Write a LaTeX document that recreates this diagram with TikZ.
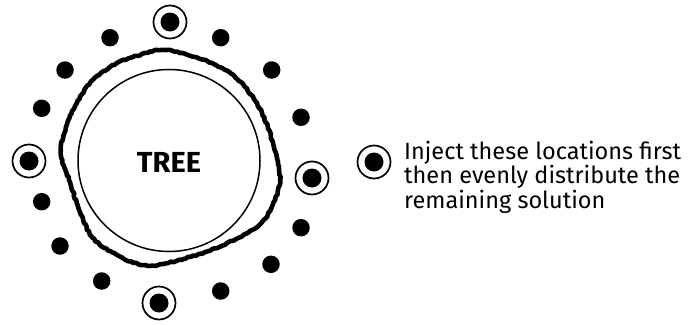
\documentclass[tikz,border=0pt]{standalone}
\usepackage{fontspec}
\setmainfont{Fira Sans}
\usetikzlibrary{decorations.pathmorphing}

\begin{document}
\begin{tikzpicture}[x=1pt, y=-1pt,
    soldot/.style={circle, fill, minimum size=17.5pt, inner sep=0pt},
    injring/.style={circle, draw, line width=1.7pt, minimum size=33pt, inner sep=0pt},
    bark/.style={line width=4.6pt, line join=round, decorate,
      decoration={random steps, segment length=2.5pt, amplitude=0.7pt}}]
  \useasboundingbox (0,0) rectangle (696,324);
  \pgfmathsetseed{7}
  % the trunk and its bark
  \node[circle, draw, line width=1.5pt, minimum size=182pt, inner sep=0pt] (trunk) at (169,160.5) {};
  \node[font=\bfseries\fontsize{29}{30}\selectfont] (tree) at (169,162) {TREE};
  \draw[bark] plot[smooth cycle, tension=0.6] coordinates {
    (163,50) (195,57) (225,70) (245,87) (262,113) (272,140) (278,162)
    (280,180) (275,200) (262,222) (238,238) (205,252) (168,263) (143,265)
    (117,255) (93,238) (80,212) (70,182) (61,155) (66,127) (77,103)
    (90,83) (110,67) (133,57)};
  % injection points to do first
  \foreach \name/\x/\y in {top/170/22, left/29/161, right/312/178, bottom/159/303, key/374/162} {
    \node[injring] (ring-\name) at (\x,\y) {};
    \node[soldot, minimum size=19pt] (hole-\name) at (ring-\name.center) {};
  }
  % the other injection points
  \foreach \x/\y [count=\i] in {110/37.7, 220.7/37.7, 65/70, 271.7/70, 41.7/108.3,
      301/117.3, 41.7/201.7, 301/227.7, 60/246, 271/264.3, 101.7/281, 220.7/291} {
    \node[soldot] (hole-\i) at (\x,\y) {};
  }
  \node[anchor=north west, align=left, inner sep=0pt,
    font=\fontsize{23.5}{20.5}\selectfont] (note) at (404,141)
    {Inject these locations first\\then evenly distribute the\\remaining solution};
\end{tikzpicture}
\end{document}
